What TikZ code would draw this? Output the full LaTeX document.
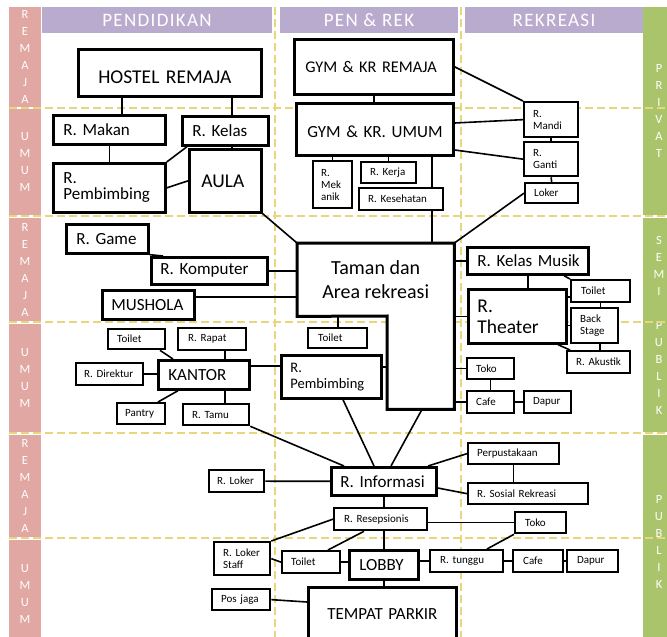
\documentclass[tikz,border=0pt]{standalone}
\usepackage{fontspec}
\setmainfont{Carlito}
\newfontfamily\headfont[LetterSpace=7]{Carlito}
\usepackage{tikz}
\definecolor{pitapink}{RGB}{224,167,163}
\definecolor{pitaungu}{RGB}{185,171,205}
\definecolor{pitahijau}{RGB}{169,196,106}
\definecolor{garis}{RGB}{231,215,122}
\frenchspacing

\begin{document}
\begin{tikzpicture}[x=1pt, y=-1pt,
    ruang/.style={draw, line width=2.7pt, fill=white, anchor=north west, align=left, inner xsep=10pt, inner ysep=0pt, font=\fontsize{17}{16}\selectfont},
    ruangbesar/.style={ruang, font=\fontsize{19.5}{21}\selectfont},
    ruangkecil/.style={ruang, line width=2.3pt, inner xsep=9pt, font=\fontsize{11}{12}\selectfont},
    hubung/.style={line width=1.6pt},
    garisbatas/.style={garis, line width=2.2pt, dash pattern=on 8pt off 4pt},
    pita/.style={fill=pitapink, text=white, minimum width=32pt, inner sep=0pt, align=center, font=\fontsize{12.5}{17}\selectfont},
    judul/.style={fill=pitaungu, text=white, minimum height=26pt, inner sep=0pt, font=\headfont\fontsize{19}{19}\selectfont},
    tamanstyle/.style={anchor=north west, fill=white, inner sep=0pt, align=center, font=\fontsize{20}{24}\selectfont}]

    \useasboundingbox (0,0) rectangle (667,637);
    \clip (0,0) rectangle (667,637);

    \draw(25,57) node[pita, minimum height=100pt] (remaja1) {R\\E\\M\\A\\J\\A};
    \draw(25,162) node[pita, minimum height=106pt] (umum1) {U\\M\\U\\M};
    \draw(25,269.5) node[pita, minimum height=103pt] (remaja2) {R\\E\\M\\A\\J\\A};
    \draw(25,378) node[pita, minimum height=108pt] (umum2) {U\\M\\U\\M};
    \draw(25,486) node[pita, minimum height=102pt] (remaja3) {R\\E\\M\\A\\J\\A};
    \draw(25,594) node[pita, minimum height=108pt] (umum3) {U\\M\\U\\M};
    \draw(659,111) node[pita, fill=pitahijau, minimum height=208pt] (privat) {P\\R\\I\\V\\A\\T};
    \draw(659,325) node[pita, fill=pitahijau, minimum height=214pt] (semipublik) {S\\E\\M\\I\\\mbox{}\\P\\U\\B\\L\\I\\K};
    \draw(659,542) node[pita, fill=pitahijau, minimum height=214pt] (publik) {P\\U\\B\\L\\I\\K};

    \draw(157,20) node[judul, minimum width=230pt] (pendidikan) {PENDIDIKAN};
    \draw(369,20) node[judul, minimum width=178pt] (penrek) {PEN \& REK};
    \draw(554,20) node[judul, minimum width=178pt] (rekreasi) {REKREASI};

    \foreach \y in {108,216,322,433,538} \draw[garisbatas] (9,\y) -- (667,\y);
    \foreach \x in {275,461} \draw[garisbatas] (\x,7) -- (\x,637);

    \draw(77,48) node[ruangbesar, text width=143pt, minimum height=47pt, inner xsep=20pt, text height=21.4pt, text depth=0pt] (hostel) {HOSTEL REMAJA};
    \draw(52,114) node[ruang, text width=92pt, minimum height=29pt] (makan) {R. Makan};
    \draw(181,115) node[ruang, text width=66pt, minimum height=29pt] (kelas) {R. Kelas};
    \draw(52,162) node[ruang, text width=92pt, minimum height=49pt] (bimbing) {R.\\Pembimbing};
    \draw(188,148) node[ruangbesar, text width=48pt, minimum height=63pt, inner xsep=12pt] (aula) {AULA};

    \draw(293,38) node[ruang, text width=137pt, minimum height=55pt, inner xsep=11pt, font=\fontsize{16.3}{16}\selectfont] (gymremaja) {\mbox{GYM \& KR REMAJA}};
    \draw(295,102) node[ruang, text width=135pt, minimum height=52pt, inner xsep=11pt, text height=16.8pt, text depth=0pt] (gymumum) {\mbox{GYM \& KR. UMUM}};
    \draw(312,160) node[ruangkecil, text width=23pt, minimum height=47pt, inner xsep=8pt] (mekanik) {R.\\Mek\\anik};
    \draw(360,161) node[ruangkecil, text width=37pt, minimum height=21pt] (kerja) {R. Kerja};
    \draw(358,187) node[ruangkecil, text width=66pt, minimum height=22pt] (kesehatan) {R. Kesehatan};
    \draw(523,101) node[ruangkecil, text width=36pt, minimum height=35pt] (mandi) {R.\\Mandi};
    \draw(523,141) node[ruangkecil, text width=36pt, minimum height=34pt] (ganti) {R.\\Ganti};
    \draw(524,182) node[ruangkecil, text width=35pt, minimum height=20pt] (loker) {Loker};

    \draw(65,223) node[ruang, text width=62pt, minimum height=29pt] (game) {R. Game};
    \draw(150,256) node[ruang, text width=98pt, minimum height=27pt, inner xsep=9pt] (komputer) {R. Komputer};
    \draw(101,289) node[ruang, text width=74pt, minimum height=29pt, inner xsep=9pt] (mushola) {MUSHOLA};
    \draw(297,243) node[tamanstyle, minimum width=157pt, minimum height=73pt] (taman) {Taman dan\\Area rekreasi};
    \draw(387,316) node[tamanstyle, minimum width=67pt, minimum height=93pt] (tamanbawah) {};
    \draw(466,246) node[ruang, text width=101pt, minimum height=27pt] (musik) {\mbox{R. Kelas Musik}};
    \draw(467,288) node[ruangbesar, text width=80pt, minimum height=54pt, inner xsep=9pt] (teater) {R.\\Theater};
    \draw(570,279) node[ruangkecil, text width=39pt, minimum height=22pt, inner xsep=10pt] (toilet3) {Toilet};
    \draw(570,307) node[ruangkecil, text width=29pt, minimum height=35pt] (backstage) {Back\\Stage};
    \draw(566,350) node[ruangkecil, text width=45pt, minimum height=22pt] (akustik) {R. Akustik};
    \draw(466,357) node[ruangkecil, text width=29pt, minimum height=21pt] (toko1) {Toko};
    \draw(466,390) node[ruangkecil, text width=29pt, minimum height=22pt] (kafe1) {Cafe};
    \draw(523,390) node[ruangkecil, text width=29pt, minimum height=22pt] (dapur1) {Dapur};

    \draw(107,328) node[ruangkecil, text width=39pt, minimum height=20pt] (toilet1) {Toilet};
    \draw(177,327) node[ruangkecil, text width=48pt, minimum height=22pt, inner xsep=10pt] (rapat) {R. Rapat};
    \draw(75,362) node[ruangkecil, text width=51pt, minimum height=22pt, inner xsep=8pt] (direktur) {R. Direktur};
    \draw(157,359) node[ruang, text width=71pt, minimum height=29pt] (kantor) {KANTOR};
    \draw(116,402) node[ruangkecil, text width=32pt, minimum height=21pt, inner xsep=8pt] (pantry) {Pantry};
    \draw(182,403) node[ruangkecil, text width=48pt, minimum height=21pt] (tamu) {R. Tamu};
    \draw(307,327) node[ruangkecil, text width=39pt, minimum height=20pt, inner xsep=10pt] (toilet2) {Toilet};
    \draw(280,354) node[ruang, text width=82pt, minimum height=43pt, inner xsep=9pt, font=\fontsize{14.5}{16}\selectfont] (bimbing2) {R.\\Pembimbing};

    \draw(330,466) node[ruang, text width=87pt, minimum height=28pt, inner xsep=9pt] (informasi) {R. Informasi};
    \draw(208,469) node[ruangkecil, text width=39pt, minimum height=22pt, inner xsep=8pt] (loker2) {R. Loker};
    \draw(467,442) node[ruangkecil, text width=73pt, minimum height=21pt] (perpus) {Perpustakaan};
    \draw(467,482) node[ruangkecil, text width=102pt, minimum height=21pt] (sosial) {R. Sosial Rekreasi};
    \draw(333,507) node[ruangkecil, text width=73pt, minimum height=22pt, inner xsep=10pt] (resepsionis) {R. Resepsionis};
    \draw(514,511) node[ruangkecil, text width=31pt, minimum height=21pt, inner xsep=10pt] (toko2) {Toko};

    \draw(213,541) node[ruangkecil, text width=38pt, minimum height=33pt] (lokerstaf) {R. Loker\\Staff};
    \draw(281,550) node[ruangkecil, text width=40pt, minimum height=22pt] (toilet4) {Toilet};
    \draw(348,549) node[ruang, text width=49pt, minimum height=29pt] (lobby) {LOBBY};
    \draw(429,549) node[ruangkecil, text width=53pt, minimum height=22pt, inner xsep=10pt] (tunggu) {R. tunggu};
    \draw(512,549) node[ruangkecil, text width=30pt, minimum height=22pt, inner xsep=10pt] (kafe2) {Cafe};
    \draw(566,549) node[ruangkecil, text width=31pt, minimum height=22pt, inner xsep=10pt] (dapur2) {Dapur};
    \draw(307,586) node[ruang, text width=110pt, minimum height=53pt, inner xsep=19pt] (parkir) {\mbox{TEMPAT PARKIR}};
    \draw(211,588) node[ruangkecil, text width=40pt, minimum height=21pt] (posjaga) {Pos jaga};

    \draw[line width=3pt] (taman.north west) -- (taman.north east) -- (tamanbawah.south east) -- (tamanbawah.south west) -- (tamanbawah.north west) -- (taman.south west) -- cycle;

    \draw[hubung] (hostel.south -| 122,0) -- (makan.north -| 122,0);
    \draw[hubung] (hostel.south -| 232,0) -- (kelas.north -| 232,0);
    \draw[hubung] (makan.south) -- (bimbing.north);
    \draw[hubung] (kelas.south -| 187,0) -- (bimbing.north east);
    \draw[hubung] (kelas.south -| 232,0) -- (aula.north -| 232,0);
    \draw[hubung] (aula.west) -- (bimbing.east);
    \draw[hubung] (aula.south east) -- (taman.north west);
    \draw[hubung] (gymremaja.south) -- (gymremaja.south |- gymumum.north);
    \draw[hubung] (mekanik.north) -- (mekanik.north |- gymumum.south);
    \draw[hubung] (kerja.north) -- (kerja.north |- gymumum.south);
    \draw[hubung] (gymumum.south -| 432,0) -- (kesehatan.north -| 432,0);
    \draw[hubung] (kesehatan.south -| 432,0) -- (taman.north -| 432,0);
    \draw[hubung] (gymremaja.east) -- (mandi.north west);
    \draw[hubung] (gymumum.east |- 0,123) -- (mandi.west);
    \draw[hubung] (gymumum.east |- 0,150) -- (ganti.west);
    \draw[hubung] (mandi.south) -- (ganti.north);
    \draw[hubung] (ganti.south) -- (loker.north);
    \draw[hubung] (loker.west) -- (taman.north east);
    \draw[hubung] (game.south east) -- (komputer.north -| 163,0);
    \draw[hubung] (komputer.east) -- (taman.west |- komputer.east);
    \draw[hubung] (mushola.east |- 0,297) -- (taman.west |- 0,297);
    \draw[hubung] (musik.west) -- (musik.west -| taman.east);
    \draw[hubung] (teater.west) -- (teater.west -| tamanbawah.east);
    \draw[hubung] (toko1.west) -- (toko1.west -| tamanbawah.east);
    \draw[hubung] (kafe1.west) -- (kafe1.west -| tamanbawah.east);
    \draw[hubung] (musik.south) -- (musik.south |- teater.north);
    \draw[hubung] (musik.south -| 564,0) -- (toilet3.north west);
    \draw[hubung] (teater.east |- 0,297) -- (toilet3.west |- 0,297);
    \draw[hubung] (backstage.west) -- (backstage.west -| teater.east);
    \draw[hubung] (toilet3.south) -- (toilet3.south |- backstage.north);
    \draw[hubung] (backstage.south -| 600,0) -- (akustik.north -| 600,0);
    \draw[hubung] (teater.south -| 558,0) -- (akustik.north -| 570,0);
    \draw[hubung] (toko1.south) -- (kafe1.north);
    \draw[hubung] (kafe1.east) -- (dapur1.west);
    \draw[hubung] (toilet1.south -| 160,0) -- (kantor.north -| 173,0);
    \draw[hubung] (rapat.south -| 225,0) -- (kantor.north -| 225,0);
    \draw[hubung] (direktur.east) -- (kantor.west |- direktur.east);
    \draw[hubung] (kantor.south -| 178,0) -- (pantry.north -| 158,0);
    \draw[hubung] (kantor.south -| 225,0) -- (tamu.north -| 225,0);
    \draw[hubung] (kantor.east |- 0,366) -- (bimbing2.west |- 0,366);
    \draw[hubung] (taman.south -| 338,0) -- (toilet2.north -| 338,0);
    \draw[hubung] (bimbing2.east |- 0,367) -- (tamanbawah.west |- 0,367);
    \draw[hubung] (tamu.south east) -- (informasi.north -| 344,0);
    \draw[hubung] (bimbing2.south -| 343,0) -- (informasi.north -| 374,0);
    \draw[hubung] (tamanbawah.south -| 422,0) -- (informasi.north -| 391,0);
    \draw[hubung] (loker2) -- (informasi);
    \draw[hubung] (informasi.north -| 428,0) -- (perpus.west);
    \draw[hubung] (informasi.east |- 0,488) -- (sosial.west);
    \draw[hubung] (perpus.south) -- (perpus.south |- sosial.north);
    \draw[hubung] (informasi.south) -- (informasi.south |- resepsionis.north);
    \draw[hubung] (toko2.west) -- (toko2.west -| resepsionis.east);
    \draw[hubung] (resepsionis.west) -- (lokerstaf.north east);
    \draw[hubung] (resepsionis.south -| 364,0) -- (toilet4.north -| 328,0);
    \draw[hubung] (lobby.north) -- (lobby.north |- resepsionis.south);
    \draw[hubung] (lokerstaf.east) -- (toilet4.west);
    \draw[hubung] (toilet4.east) -- (lobby.west |- toilet4.east);
    \draw[hubung] (tunggu.west) -- (tunggu.west -| lobby.east);
    \draw[hubung] (tunggu.north -| 487,0) -- (toko2.south west);
    \draw[hubung] (tunggu.east) -- (kafe2.west);
    \draw[hubung] (kafe2.east) -- (dapur2.west);
    \draw[hubung] (lobby.south) -- (lobby.south |- parkir.north);
    \draw[hubung] (posjaga.east) -- (parkir.west |- 0,602);

\end{tikzpicture}
\end{document}
